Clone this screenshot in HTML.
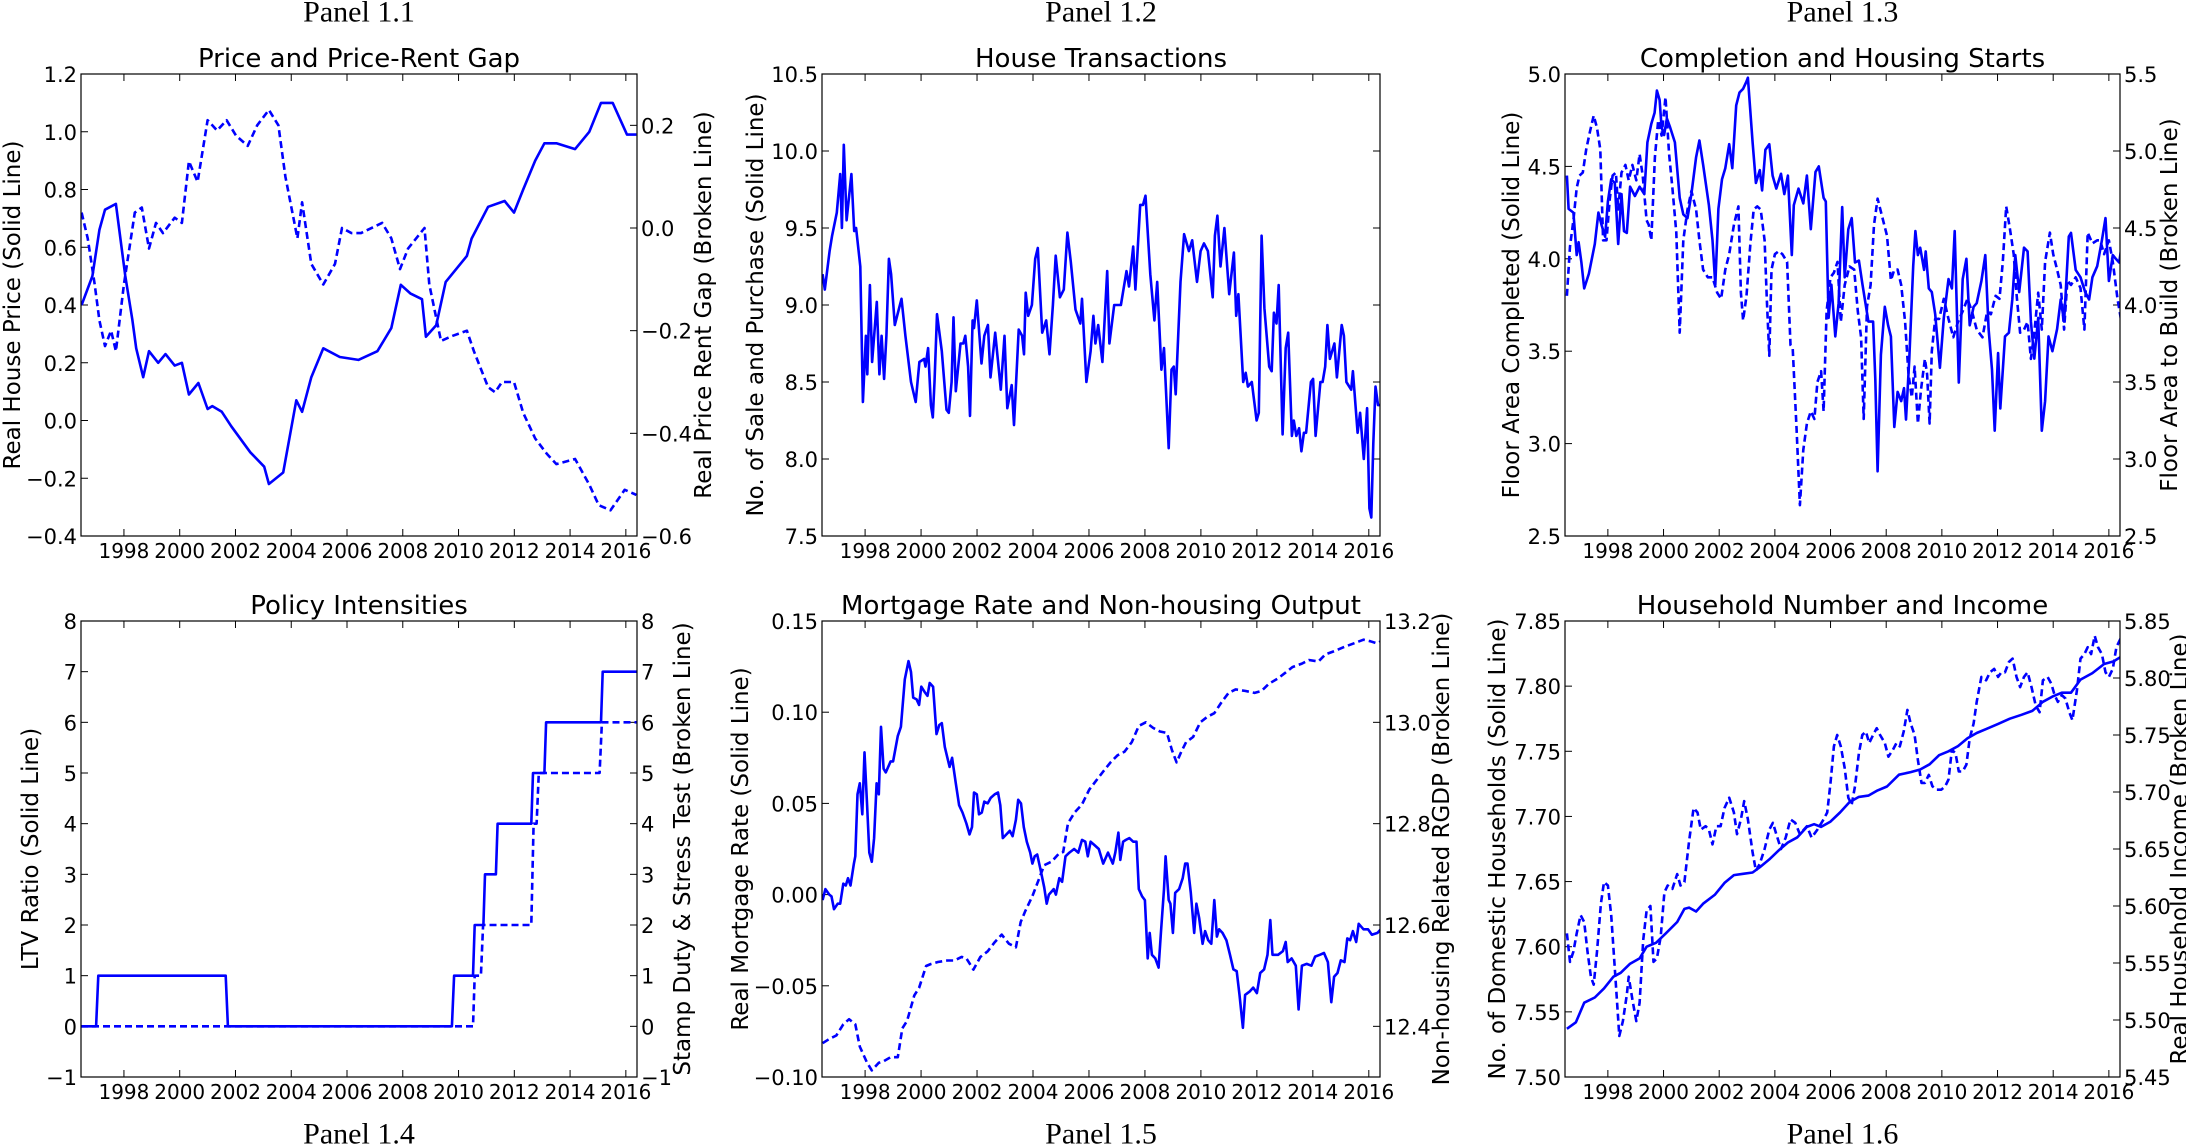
<!DOCTYPE html>
<html><head><meta charset="utf-8"><style>
html,body{margin:0;padding:0;background:#fff;}
svg{display:block;font-family:"DejaVu Sans","Liberation Sans",sans-serif;}
.plabel{font-family:"Liberation Serif",serif;font-size:30px;}
</style></head><body>
<svg id="fig" width="2186" height="1145" viewBox="0 0 2186 1145" xmlns="http://www.w3.org/2000/svg">
<rect width="2186" height="1145" fill="#fff"/>
</svg>
<script>
// ---------- Data ----------
const xTickYears = [1998,2000,2002,2004,2006,2008,2010,2012,2014,2016];

const p11SolidDates = [1996.48,1996.87,1997.12,1997.32,1997.71,1998.05,1998.3,1998.44,1998.69,1998.9,1999.23,1999.49,1999.82,2000.08,2000.33,2000.67,2001.0,2001.17,2001.51,2001.85,2002.53,2003.03,2003.2,2003.71,2004.18,2004.39,2004.72,2005.15,2005.74,2006.41,2007.09,2007.59,2007.93,2008.27,2008.69,2008.83,2009.2,2009.54,2010.3,2010.47,2011.06,2011.65,2011.99,2012.32,2012.75,2013.08,2013.51,2014.18,2014.69,2015.11,2015.53,2016.04,2016.38];
const p11SolidVals = [0.4,0.5,0.66,0.73,0.75,0.5,0.35,0.25,0.15,0.24,0.2,0.23,0.19,0.2,0.09,0.13,0.04,0.05,0.03,-0.02,-0.11,-0.16,-0.22,-0.18,0.07,0.03,0.15,0.25,0.22,0.21,0.24,0.32,0.47,0.44,0.42,0.29,0.33,0.48,0.57,0.63,0.74,0.76,0.72,0.8,0.9,0.96,0.96,0.94,1.0,1.1,1.1,0.99,0.99];
const p11DashDates = [1996.48,1996.7,1996.95,1997.12,1997.32,1997.54,1997.71,1998.0,1998.39,1998.64,1998.9,1999.15,1999.4,1999.82,2000.08,2000.33,2000.64,2001.0,2001.34,2001.68,2002.02,2002.44,2002.78,2003.2,2003.54,2003.79,2004.22,2004.39,2004.72,2005.15,2005.57,2005.82,2006.16,2006.5,2007.26,2007.59,2007.9,2008.19,2008.78,2008.95,2009.37,2009.79,2010.3,2010.55,2011.06,2011.31,2011.56,2011.99,2012.32,2012.75,2013.17,2013.51,2014.18,2014.69,2015.03,2015.45,2015.96,2016.38];
const p11DashVals = [0.03,-0.02,-0.11,-0.18,-0.23,-0.2,-0.24,-0.11,0.03,0.04,-0.04,0.01,-0.01,0.02,0.01,0.13,0.09,0.21,0.19,0.21,0.18,0.16,0.2,0.23,0.2,0.1,-0.02,0.05,-0.07,-0.11,-0.07,0.0,-0.01,-0.01,0.01,-0.02,-0.08,-0.04,0.0,-0.11,-0.22,-0.21,-0.2,-0.24,-0.31,-0.32,-0.3,-0.3,-0.36,-0.41,-0.44,-0.46,-0.45,-0.5,-0.54,-0.55,-0.51,-0.52];

const p12Dates = [1996.48,1996.56,1996.73,1996.82,1996.99,1997.11,1997.17,1997.24,1997.34,1997.51,1997.61,1997.68,1997.83,1997.92,1998.03,1998.08,1998.17,1998.25,1998.42,1998.51,1998.59,1998.68,1998.76,1998.85,1998.93,1999.06,1999.3,1999.44,1999.64,1999.81,1999.94,2000.11,2000.16,2000.25,2000.35,2000.42,2000.48,2000.57,2000.74,2000.91,2000.99,2001.09,2001.16,2001.24,2001.41,2001.51,2001.58,2001.68,2001.75,2001.84,2001.89,2001.99,2002.16,2002.26,2002.39,2002.48,2002.65,2002.85,2002.98,2003.08,2003.24,2003.32,2003.49,2003.61,2003.68,2003.74,2003.83,2003.96,2004.08,2004.17,2004.33,2004.47,2004.59,2004.71,2004.81,2004.96,2005.1,2005.23,2005.35,2005.52,2005.69,2005.75,2005.91,2006.06,2006.16,2006.23,2006.33,2006.48,2006.65,2006.73,2006.9,2007.14,2007.34,2007.43,2007.58,2007.66,2007.83,2007.93,2008.02,2008.19,2008.34,2008.44,2008.59,2008.68,2008.85,2008.95,2009.03,2009.1,2009.27,2009.4,2009.57,2009.69,2009.86,2009.99,2010.11,2010.25,2010.42,2010.5,2010.59,2010.7,2010.84,2011.01,2011.18,2011.26,2011.34,2011.51,2011.6,2011.68,2011.82,2011.99,2012.07,2012.17,2012.27,2012.44,2012.53,2012.61,2012.7,2012.78,2012.92,2013.03,2013.12,2013.25,2013.32,2013.41,2013.51,2013.59,2013.68,2013.76,2013.93,2014.01,2014.1,2014.27,2014.35,2014.44,2014.52,2014.61,2014.77,2014.86,2015.03,2015.11,2015.2,2015.37,2015.43,2015.6,2015.69,2015.82,2015.94,2016.02,2016.09,2016.16,2016.24,2016.33,2016.45];
const p12Vals = [9.2,9.1,9.35,9.45,9.6,9.85,9.5,10.04,9.55,9.85,9.48,9.5,9.25,8.37,8.8,8.55,9.13,8.63,9.02,8.55,8.8,8.52,8.8,9.3,9.2,8.87,9.04,8.8,8.5,8.37,8.63,8.65,8.6,8.72,8.35,8.27,8.5,8.94,8.7,8.32,8.3,8.5,8.92,8.44,8.75,8.75,8.8,8.6,8.28,8.9,8.85,9.03,8.62,8.8,8.87,8.53,8.82,8.45,8.8,8.33,8.48,8.22,8.84,8.8,8.68,9.08,8.93,9.0,9.3,9.37,8.82,8.9,8.68,9.0,9.32,9.05,9.1,9.47,9.28,8.97,8.88,9.04,8.5,8.7,8.93,8.75,8.87,8.63,9.22,8.75,9.0,9.0,9.22,9.12,9.38,9.1,9.65,9.65,9.71,9.2,8.9,9.15,8.58,8.72,8.07,8.58,8.6,8.42,9.15,9.46,9.35,9.42,9.15,9.35,9.4,9.35,9.05,9.45,9.58,9.25,9.5,9.07,9.34,8.93,9.07,8.5,8.56,8.47,8.5,8.25,8.3,9.45,8.98,8.6,8.57,8.95,8.88,9.13,8.16,8.72,8.82,8.15,8.25,8.15,8.2,8.05,8.17,8.17,8.5,8.52,8.15,8.5,8.5,8.6,8.87,8.65,8.75,8.53,8.87,8.8,8.5,8.45,8.57,8.17,8.3,8.0,8.33,7.68,7.62,8.1,8.47,8.35,8.35];

const p13SolidDates = [1996.53,1996.59,1996.76,1996.88,1996.95,1997.05,1997.15,1997.32,1997.53,1997.66,1997.78,1997.9,1998.0,1998.12,1998.25,1998.37,1998.49,1998.58,1998.68,1998.8,1998.97,1999.14,1999.31,1999.42,1999.56,1999.68,1999.76,1999.86,1999.93,2000.02,2000.12,2000.24,2000.41,2000.58,2000.71,2000.86,2001.0,2001.17,2001.29,2001.42,2001.63,2001.76,2001.86,2001.97,2002.1,2002.22,2002.36,2002.47,2002.61,2002.73,2002.86,2002.98,2003.03,2003.2,2003.32,2003.46,2003.54,2003.66,2003.8,2003.92,2004.05,2004.22,2004.34,2004.47,2004.61,2004.68,2004.85,2005.02,2005.15,2005.29,2005.46,2005.58,2005.75,2005.83,2005.93,2006.03,2006.17,2006.29,2006.42,2006.51,2006.64,2006.76,2006.88,2007.02,2007.15,2007.36,2007.53,2007.61,2007.69,2007.81,2007.95,2008.07,2008.17,2008.29,2008.41,2008.54,2008.64,2008.71,2008.83,2008.97,2009.05,2009.14,2009.22,2009.36,2009.42,2009.53,2009.64,2009.76,2009.93,2010.07,2010.24,2010.36,2010.46,2010.61,2010.75,2010.88,2011.0,2011.14,2011.25,2011.42,2011.56,2011.68,2011.8,2011.9,2012.02,2012.1,2012.27,2012.41,2012.53,2012.64,2012.78,2012.95,2013.08,2013.2,2013.32,2013.46,2013.59,2013.71,2013.83,2013.97,2014.14,2014.27,2014.39,2014.56,2014.64,2014.81,2014.98,2015.15,2015.29,2015.41,2015.58,2015.75,2015.88,2016.0,2016.14,2016.25,2016.37,2016.47];
const p13SolidVals = [4.45,4.27,4.25,4.02,4.09,3.98,3.84,3.92,4.08,4.25,4.18,4.12,4.31,4.43,4.41,4.08,4.35,4.15,4.14,4.39,4.34,4.39,4.35,4.63,4.73,4.79,4.91,4.86,4.71,4.67,4.76,4.71,4.63,4.33,4.24,4.22,4.35,4.55,4.64,4.51,4.29,4.1,3.86,4.27,4.43,4.49,4.62,4.49,4.83,4.9,4.92,4.96,4.98,4.63,4.41,4.48,4.37,4.59,4.62,4.45,4.38,4.46,4.35,4.45,4.02,4.29,4.38,4.3,4.45,4.16,4.47,4.5,4.33,4.31,3.68,3.86,3.58,3.76,4.28,3.9,4.16,4.22,3.98,3.99,3.86,3.66,3.66,3.35,2.85,3.48,3.74,3.64,3.58,3.09,3.28,3.23,3.3,3.13,3.46,3.96,4.15,4.02,4.06,3.94,4.04,3.84,3.82,3.7,3.41,3.68,3.89,3.84,4.15,3.33,3.89,4.0,3.64,3.74,3.76,3.88,4.02,3.62,3.4,3.07,3.49,3.19,3.58,3.6,3.78,4.02,3.82,4.06,4.04,3.66,3.46,3.68,3.07,3.23,3.58,3.5,3.62,3.78,3.66,4.12,4.14,3.94,3.9,3.82,3.78,3.9,3.96,4.1,4.22,3.88,4.02,4.0,3.98,4.08];
const p13DashDates = [1996.53,1996.64,1996.76,1996.88,1996.98,1997.1,1997.22,1997.36,1997.49,1997.61,1997.73,1997.83,1997.95,1998.07,1998.17,1998.29,1998.37,1998.49,1998.63,1998.75,1998.88,1999.02,1999.14,1999.25,1999.39,1999.47,1999.56,1999.69,1999.81,1999.93,2000.07,2000.2,2000.32,2000.46,2000.58,2000.71,2000.86,2001.0,2001.17,2001.29,2001.42,2001.59,2001.76,2001.93,2002.07,2002.22,2002.36,2002.53,2002.69,2002.78,2002.86,2002.98,2003.12,2003.24,2003.37,2003.49,2003.63,2003.71,2003.8,2003.88,2004.0,2004.14,2004.27,2004.44,2004.56,2004.64,2004.78,2004.9,2005.02,2005.15,2005.29,2005.42,2005.53,2005.66,2005.75,2005.86,2006.0,2006.12,2006.25,2006.37,2006.51,2006.68,2006.85,2006.98,2007.1,2007.19,2007.31,2007.44,2007.56,2007.69,2007.86,2008.03,2008.17,2008.29,2008.41,2008.54,2008.68,2008.8,2008.92,2009.02,2009.14,2009.25,2009.39,2009.47,2009.56,2009.64,2009.76,2009.9,2010.07,2010.24,2010.41,2010.58,2010.75,2010.92,2011.08,2011.25,2011.46,2011.63,2011.76,2011.93,2012.07,2012.19,2012.31,2012.44,2012.58,2012.69,2012.81,2012.95,2013.08,2013.2,2013.32,2013.46,2013.59,2013.71,2013.88,2014.0,2014.14,2014.27,2014.39,2014.51,2014.64,2014.81,2014.98,2015.12,2015.24,2015.41,2015.58,2015.69,2015.83,2016.0,2016.14,2016.31,2016.47];
const p13DashVals = [4.06,4.38,4.55,4.76,4.84,4.86,5.01,5.13,5.23,5.15,5.01,4.42,4.42,4.69,4.84,4.86,4.62,4.86,4.91,4.81,4.91,4.81,4.98,4.84,4.55,4.52,4.42,4.96,5.2,5.1,5.35,4.98,4.76,4.47,3.82,4.42,4.62,4.74,4.62,4.42,4.23,4.18,4.18,4.08,4.04,4.23,4.33,4.52,4.64,4.08,3.9,4.06,4.4,4.62,4.64,4.62,4.42,4.04,3.67,4.23,4.33,4.35,4.33,4.28,3.74,3.72,3.19,2.7,3.06,3.23,3.31,3.26,3.5,3.57,3.31,3.96,4.18,4.21,4.28,3.89,4.13,4.25,4.23,3.96,3.79,3.26,3.99,4.13,4.52,4.69,4.57,4.45,4.16,4.23,4.23,4.13,3.89,3.55,3.4,3.6,3.23,3.45,3.65,3.55,3.23,3.7,3.91,3.91,4.04,3.91,3.79,3.89,3.96,4.04,3.96,3.84,3.79,3.96,3.94,4.06,4.04,4.28,4.64,4.5,4.33,4.06,3.82,3.84,3.89,3.65,3.82,4.08,3.84,4.28,4.47,4.33,4.23,4.13,3.84,4.16,4.13,4.18,4.11,3.84,4.47,4.4,4.42,4.42,4.33,4.42,4.28,4.04,3.87];

const p14LtvDates = [1996.46,1997.0,1997.08,2001.65,2001.73,2009.76,2009.84,2010.52,2010.58,2010.89,2010.95,2011.34,2011.4,2012.61,2012.67,2013.08,2013.14,2015.11,2015.17,2016.4];
const p14LtvVals = [0,0,1,1,0,0,1,1,2,2,3,3,4,4,5,5,6,6,7,7];
const p14StampDates = [1996.46,2010.52,2010.58,2010.8,2010.88,2012.61,2012.69,2012.8,2012.88,2013.08,2013.14,2015.06,2015.14,2016.4];
const p14StampVals = [0,0,1,1,2,2,4,4,5,5,5,5,6,6];

const p15SolidDates = [1996.48,1996.58,1996.72,1996.8,1996.89,1997.02,1997.11,1997.22,1997.31,1997.39,1997.48,1997.6,1997.65,1997.73,1997.81,1997.9,1997.98,1998.07,1998.15,1998.24,1998.32,1998.41,1998.49,1998.57,1998.66,1998.74,1998.91,1999.0,1999.17,1999.28,1999.42,1999.55,1999.64,1999.72,1999.84,1999.93,2000.01,2000.13,2000.23,2000.31,2000.43,2000.55,2000.65,2000.74,2000.85,2000.94,2001.02,2001.11,2001.24,2001.36,2001.48,2001.62,2001.73,2001.82,2001.89,2001.99,2002.07,2002.17,2002.26,2002.38,2002.49,2002.63,2002.75,2002.83,2002.92,2003.05,2003.17,2003.27,2003.39,2003.47,2003.57,2003.67,2003.78,2003.9,2003.98,2004.06,2004.15,2004.28,2004.4,2004.49,2004.57,2004.74,2004.82,2004.94,2005.04,2005.16,2005.3,2005.47,2005.62,2005.75,2005.87,2005.96,2006.06,2006.21,2006.35,2006.51,2006.68,2006.85,2006.94,2007.05,2007.12,2007.22,2007.32,2007.44,2007.58,2007.7,2007.78,2007.9,2008.0,2008.1,2008.17,2008.25,2008.37,2008.49,2008.57,2008.68,2008.74,2008.85,2008.91,2009.0,2009.08,2009.22,2009.35,2009.44,2009.52,2009.64,2009.76,2009.84,2009.94,2010.06,2010.15,2010.26,2010.37,2010.48,2010.57,2010.65,2010.77,2010.91,2011.04,2011.16,2011.28,2011.38,2011.5,2011.58,2011.75,2011.87,2012.0,2012.12,2012.26,2012.38,2012.48,2012.56,2012.76,2012.93,2013.03,2013.1,2013.24,2013.39,2013.49,2013.61,2013.78,2013.95,2014.08,2014.25,2014.4,2014.54,2014.66,2014.76,2014.88,2015.0,2015.13,2015.23,2015.33,2015.43,2015.55,2015.64,2015.81,2015.97,2016.11,2016.31,2016.43];
const p15SolidVals = [-0.003,0.003,0.0,-0.001,-0.008,-0.005,-0.005,0.006,0.005,0.009,0.005,0.017,0.021,0.055,0.061,0.044,0.078,0.049,0.023,0.018,0.031,0.061,0.055,0.092,0.069,0.067,0.073,0.073,0.087,0.092,0.118,0.128,0.122,0.108,0.107,0.104,0.114,0.111,0.109,0.116,0.114,0.088,0.093,0.094,0.081,0.075,0.07,0.075,0.061,0.049,0.045,0.039,0.033,0.037,0.056,0.055,0.044,0.045,0.051,0.05,0.053,0.055,0.056,0.049,0.031,0.033,0.035,0.032,0.041,0.052,0.05,0.037,0.029,0.023,0.017,0.021,0.022,0.013,0.004,-0.005,0.0,0.003,0.0,0.009,0.007,0.021,0.023,0.025,0.023,0.03,0.029,0.021,0.029,0.027,0.025,0.017,0.023,0.017,0.023,0.034,0.019,0.029,0.03,0.031,0.029,0.029,0.003,-0.001,-0.003,-0.035,-0.021,-0.033,-0.035,-0.04,-0.021,0.003,0.021,-0.003,-0.005,-0.021,0.001,0.003,0.009,0.017,0.017,0.001,-0.021,-0.005,-0.013,-0.027,-0.02,-0.025,-0.027,-0.003,-0.023,-0.019,-0.021,-0.025,-0.033,-0.041,-0.042,-0.055,-0.073,-0.055,-0.053,-0.051,-0.054,-0.043,-0.041,-0.033,-0.014,-0.033,-0.033,-0.031,-0.026,-0.037,-0.035,-0.039,-0.063,-0.039,-0.038,-0.039,-0.034,-0.033,-0.032,-0.037,-0.059,-0.045,-0.043,-0.036,-0.037,-0.024,-0.025,-0.02,-0.026,-0.016,-0.019,-0.019,-0.022,-0.021,-0.019];
const p15DashDates = [1996.48,1996.72,1996.97,1997.22,1997.43,1997.65,1997.81,1998.07,1998.24,1998.49,1998.66,1998.91,1999.17,1999.33,1999.5,1999.76,1999.93,2000.18,2000.35,2000.6,2000.94,2001.19,2001.45,2001.62,2001.87,2002.12,2002.38,2002.63,2002.88,2003.14,2003.39,2003.56,2003.73,2003.98,2004.23,2004.4,2004.66,2004.91,2005.08,2005.25,2005.5,2005.75,2006.01,2006.26,2006.51,2006.77,2007.02,2007.27,2007.53,2007.78,2008.03,2008.29,2008.54,2008.79,2008.96,2009.13,2009.3,2009.47,2009.72,2009.98,2010.23,2010.48,2010.74,2010.99,2011.24,2011.58,2011.92,2012.17,2012.43,2012.76,2013.02,2013.27,2013.61,2013.86,2014.2,2014.45,2014.79,2015.13,2015.47,2015.81,2016.06,2016.28,2016.43];
const p15DashVals = [12.367,12.375,12.382,12.404,12.414,12.404,12.36,12.328,12.313,12.328,12.331,12.339,12.339,12.396,12.411,12.461,12.476,12.519,12.523,12.527,12.53,12.53,12.537,12.534,12.512,12.537,12.548,12.566,12.581,12.563,12.556,12.606,12.628,12.657,12.693,12.718,12.725,12.74,12.744,12.801,12.823,12.838,12.867,12.885,12.903,12.921,12.935,12.942,12.961,12.993,13.0,12.989,12.982,12.979,12.946,12.921,12.942,12.961,12.971,13.0,13.011,13.018,13.04,13.058,13.065,13.062,13.058,13.062,13.076,13.087,13.098,13.109,13.116,13.123,13.12,13.134,13.141,13.149,13.156,13.163,13.16,13.156,13.16];

const p16SolidDates = [1996.53,1996.85,1997.15,1997.53,1997.86,1998.2,1998.46,1998.8,1999.14,1999.39,1999.73,2000.07,2000.49,2000.75,2000.92,2001.17,2001.42,2001.85,2002.19,2002.53,2002.86,2003.2,2003.46,2003.8,2004.14,2004.47,2004.81,2005.15,2005.41,2005.66,2006.0,2006.34,2006.68,2007.02,2007.36,2007.69,2008.03,2008.46,2008.88,2009.22,2009.56,2009.9,2010.24,2010.58,2010.92,2011.25,2011.59,2012.02,2012.44,2012.86,2013.25,2013.63,2013.97,2014.31,2014.64,2014.98,2015.41,2015.83,2016.17,2016.47];
const p16SolidVals = [7.537,7.542,7.557,7.561,7.568,7.577,7.58,7.587,7.591,7.6,7.603,7.61,7.619,7.629,7.63,7.627,7.633,7.64,7.649,7.655,7.656,7.657,7.661,7.667,7.674,7.68,7.684,7.692,7.694,7.692,7.696,7.703,7.711,7.715,7.716,7.72,7.723,7.732,7.734,7.736,7.74,7.747,7.75,7.754,7.76,7.764,7.767,7.771,7.775,7.778,7.781,7.788,7.792,7.795,7.795,7.805,7.81,7.817,7.819,7.823];
const p16DashDates = [1996.53,1996.64,1996.76,1996.88,1997.02,1997.15,1997.27,1997.39,1997.49,1997.61,1997.75,1997.86,1998.0,1998.12,1998.29,1998.41,1998.54,1998.68,1998.75,1998.88,1999.02,1999.14,1999.27,1999.39,1999.53,1999.64,1999.76,1999.9,2000.03,2000.15,2000.32,2000.49,2000.61,2000.75,2000.92,2001.08,2001.22,2001.34,2001.51,2001.63,2001.76,2001.9,2002.05,2002.19,2002.36,2002.53,2002.64,2002.78,2002.9,2003.03,2003.2,2003.32,2003.46,2003.63,2003.8,2003.93,2004.05,2004.22,2004.39,2004.56,2004.73,2004.9,2005.15,2005.32,2005.53,2005.75,2005.88,2006.0,2006.12,2006.24,2006.37,2006.51,2006.64,2006.76,2006.88,2007.02,2007.14,2007.27,2007.39,2007.53,2007.66,2007.78,2007.95,2008.08,2008.24,2008.37,2008.49,2008.63,2008.76,2008.88,2009.02,2009.14,2009.27,2009.39,2009.53,2009.66,2009.81,2009.98,2010.12,2010.24,2010.36,2010.49,2010.61,2010.75,2010.88,2011.0,2011.14,2011.25,2011.42,2011.59,2011.73,2011.88,2012.02,2012.14,2012.27,2012.41,2012.54,2012.68,2012.81,2012.95,2013.08,2013.22,2013.37,2013.51,2013.63,2013.8,2013.93,2014.05,2014.17,2014.31,2014.44,2014.58,2014.69,2014.85,2014.98,2015.12,2015.24,2015.36,2015.49,2015.61,2015.75,2015.88,2016.0,2016.14,2016.27,2016.47];
const p16DashVals = [5.576,5.551,5.56,5.576,5.592,5.586,5.56,5.538,5.531,5.56,5.602,5.621,5.618,5.592,5.531,5.486,5.499,5.522,5.538,5.518,5.499,5.515,5.57,5.596,5.6,5.551,5.554,5.573,5.612,5.618,5.615,5.628,5.618,5.621,5.657,5.686,5.682,5.667,5.67,5.667,5.654,5.67,5.67,5.686,5.695,5.682,5.663,5.676,5.692,5.676,5.647,5.631,5.637,5.65,5.667,5.673,5.663,5.65,5.66,5.676,5.673,5.663,5.67,5.66,5.667,5.676,5.682,5.708,5.74,5.75,5.74,5.721,5.695,5.689,5.705,5.734,5.75,5.753,5.743,5.75,5.756,5.75,5.743,5.731,5.737,5.743,5.74,5.753,5.772,5.76,5.75,5.728,5.708,5.708,5.715,5.705,5.702,5.702,5.705,5.711,5.737,5.734,5.718,5.718,5.724,5.747,5.76,5.779,5.801,5.798,5.805,5.808,5.801,5.805,5.805,5.814,5.817,5.801,5.792,5.801,5.805,5.792,5.776,5.77,5.798,5.801,5.795,5.785,5.779,5.785,5.782,5.77,5.763,5.789,5.817,5.821,5.827,5.821,5.837,5.827,5.821,5.805,5.801,5.808,5.827,5.837];

// ---------- Drawing ----------
const svg = document.getElementById('fig');
const NS = 'http://www.w3.org/2000/svg';
const XMIN = 1996.46, XMAX = 2016.4;
const BLUE = '#0000ff';
const XTICK_FS = 20, YTICK_FS = 21, TITLE_FS = 26, LABEL_FS = 23;

function mk(tag, attrs, parent){
  const el = document.createElementNS(NS, tag);
  for (const k in attrs) el.setAttribute(k, attrs[k]);
  (parent||svg).appendChild(el);
  return el;
}
function fmt(v, d){ const s = Math.abs(v).toFixed(d); return (v < -1e-9 ? '\u2212' : '') + s; }

const panels = [
 {id:'1-1', x0:81, x1:637, y0:74, y1:536, title:'Price and Price-Rent Gap', plabel:'Panel 1.1', plabelY:12,
  left:{min:-0.4,max:1.2,step:0.2,dec:1,label:'Real House Price (Solid Line)',lx:13},
  right:{min:-0.6,max:0.3,step:0.2,dec:1,label:'Real Price Rent Gap (Broken Line)',lx:704,tmax:0.2},
  series:[{d:p11SolidDates,v:p11SolidVals,ax:'left',dash:false,name:'real-house-price-line'},
          {d:p11DashDates,v:p11DashVals,ax:'right',dash:true,name:'price-rent-gap-line'}]},
 {id:'1-2', x0:822, x1:1380, y0:74, y1:536, title:'House Transactions', plabel:'Panel 1.2', plabelY:12,
  left:{min:7.5,max:10.5,step:0.5,dec:1,label:'No. of Sale and Purchase (Solid Line)',lx:756},
  right:null,
  series:[{d:p12Dates,v:p12Vals,ax:'left',dash:false,name:'transactions-line'}]},
 {id:'1-3', x0:1565, x1:2120, y0:74, y1:536, title:'Completion and Housing Starts', plabel:'Panel 1.3', plabelY:12,
  left:{min:2.5,max:5.0,step:0.5,dec:1,label:'Floor Area Completed (Solid Line)',lx:1512},
  right:{min:2.5,max:5.5,step:0.5,dec:1,label:'Floor Area to Build (Broken Line)',lx:2170},
  series:[{d:p13SolidDates,v:p13SolidVals,ax:'left',dash:false,name:'floor-area-completed-line'},
          {d:p13DashDates,v:p13DashVals,ax:'right',dash:true,name:'floor-area-to-build-line'}]},
 {id:'1-4', x0:81, x1:637, y0:621, y1:1077, title:'Policy Intensities', plabel:'Panel 1.4', plabelY:1134,
  left:{min:-1,max:8,step:1,dec:0,label:'LTV Ratio (Solid Line)',lx:31},
  right:{min:-1,max:8,step:1,dec:0,label:'Stamp Duty & Stress Test (Broken Line)',lx:683},
  series:[{d:p14LtvDates,v:p14LtvVals,ax:'left',dash:false,name:'ltv-ratio-line'},
          {d:p14StampDates,v:p14StampVals,ax:'right',dash:true,name:'stamp-duty-line'}]},
 {id:'1-5', x0:822, x1:1380, y0:621, y1:1077, title:'Mortgage Rate and Non-housing Output', plabel:'Panel 1.5', plabelY:1134,
  left:{min:-0.10,max:0.15,step:0.05,dec:2,label:'Real Mortgage Rate (Solid Line)',lx:741},
  right:{min:12.3,max:13.2,step:0.2,dec:1,label:'Non-housing Related RGDP (Broken Line)',lx:1442,tmin:12.4},
  series:[{d:p15SolidDates,v:p15SolidVals,ax:'left',dash:false,name:'mortgage-rate-line'},
          {d:p15DashDates,v:p15DashVals,ax:'right',dash:true,name:'rgdp-line'}]},
 {id:'1-6', x0:1565, x1:2120, y0:621, y1:1077, title:'Household Number and Income', plabel:'Panel 1.6', plabelY:1134,
  left:{min:7.50,max:7.85,step:0.05,dec:2,label:'No. of Domestic Households (Solid Line)',lx:1498},
  right:{min:5.45,max:5.85,step:0.05,dec:2,label:'Real Household Income (Broken Line)',lx:2180},
  series:[{d:p16SolidDates,v:p16SolidVals,ax:'left',dash:false,name:'households-line'},
          {d:p16DashDates,v:p16DashVals,ax:'right',dash:true,name:'household-income-line'}]}
];

function sx(p, v){ return p.x0 + (v - XMIN) / (XMAX - XMIN) * (p.x1 - p.x0); }
function sy(p, ax, v){ return p.y1 - (v - ax.min) / (ax.max - ax.min) * (p.y1 - p.y0); }

panels.forEach(p => {
  const g = mk('g', {});
  
  

  const cp = mk('clipPath', {id:'clip' + p.id}, g);
  mk('rect', {x:p.x0, y:p.y0, width:p.x1-p.x0, height:p.y1-p.y0}, cp);

  const pl = mk('text', {x:(p.x0+p.x1)/2, y:p.plabelY, 'text-anchor':'middle', 'dominant-baseline':'central', class:'plabel', fill:'#000'}, g);
  pl.textContent = p.plabel;
  
  

  const t = mk('text', {x:(p.x0+p.x1)/2, y:p.y0-7, 'text-anchor':'middle', 'font-size':TITLE_FS, fill:'#000'}, g);
  t.textContent = p.title;
  
  

  xTickYears.forEach(yr => {
    const x = sx(p, yr);
    mk('line', {x1:x, x2:x, y1:p.y1, y2:p.y1-7, stroke:'#000', 'stroke-width':1}, g);
    mk('line', {x1:x, x2:x, y1:p.y0, y2:p.y0+7, stroke:'#000', 'stroke-width':1}, g);
    const tl = mk('text', {x:x, y:p.y1+22, 'text-anchor':'middle', 'font-size':XTICK_FS, fill:'#000'}, g);
    tl.textContent = String(yr);
    
    
  });

  const L = p.left;
  for (let v = L.min; v <= L.max + 1e-9; v += L.step) {
    const y = sy(p, L, v);
    mk('line', {x1:p.x0, x2:p.x0+7, y1:y, y2:y, stroke:'#000', 'stroke-width':1}, g);
    if (!p.right) mk('line', {x1:p.x1, x2:p.x1-7, y1:y, y2:y, stroke:'#000', 'stroke-width':1}, g);
    const tl = mk('text', {x:p.x0-4, y:y+8, 'text-anchor':'end', 'font-size':YTICK_FS, fill:'#000'}, g);
    tl.textContent = fmt(v, L.dec);
    
    
  }
  const yl = mk('text', {x:0, y:0, 'text-anchor':'middle', 'dominant-baseline':'central', 'font-size':LABEL_FS, fill:'#000',
    transform:'translate(' + L.lx + ',' + ((p.y0+p.y1)/2) + ') rotate(-90)'}, g);
  yl.textContent = L.label;
  
  

  const R = p.right;
  if (R) {
    const start = R.tmin !== undefined ? R.tmin : R.min;
    const end = R.tmax !== undefined ? R.tmax : R.max;
    for (let v = start; v <= end + 1e-9; v += R.step) {
      const y = sy(p, R, v);
      mk('line', {x1:p.x1, x2:p.x1-7, y1:y, y2:y, stroke:'#000', 'stroke-width':1}, g);
      const tl = mk('text', {x:p.x1+4, y:y+8, 'text-anchor':'start', 'font-size':YTICK_FS, fill:'#000'}, g);
      tl.textContent = fmt(v, R.dec);
      
      
    }
    const yr = mk('text', {x:0, y:0, 'text-anchor':'middle', 'dominant-baseline':'central', 'font-size':LABEL_FS, fill:'#000',
      transform:'translate(' + R.lx + ',' + ((p.y0+p.y1)/2) + ') rotate(-90)'}, g);
    yr.textContent = R.label;
    
    
  }

  p.series.forEach(s => {
    const ax = s.ax === 'left' ? p.left : p.right;
    const n = Math.min(s.d.length, s.v.length);
    let d = '';
    for (let i = 0; i < n; i++) {
      d += (i ? 'L' : 'M') + sx(p, s.d[i]).toFixed(1) + ',' + sy(p, ax, s.v[i]).toFixed(1);
    }
    const path = mk('path', {d:d, fill:'none', stroke:BLUE, 'stroke-width':2.6, 'stroke-linejoin':'round',
      'clip-path':'url(#clip' + p.id + ')'}, g);
    if (s.dash) path.setAttribute('stroke-dasharray', '7,4');
    
    
  });

  const fr = mk('rect', {x:p.x0, y:p.y0, width:p.x1-p.x0, height:p.y1-p.y0, fill:'none', stroke:'#000', 'stroke-width':1.2}, g);
  
  
});
</script>
</body></html>
